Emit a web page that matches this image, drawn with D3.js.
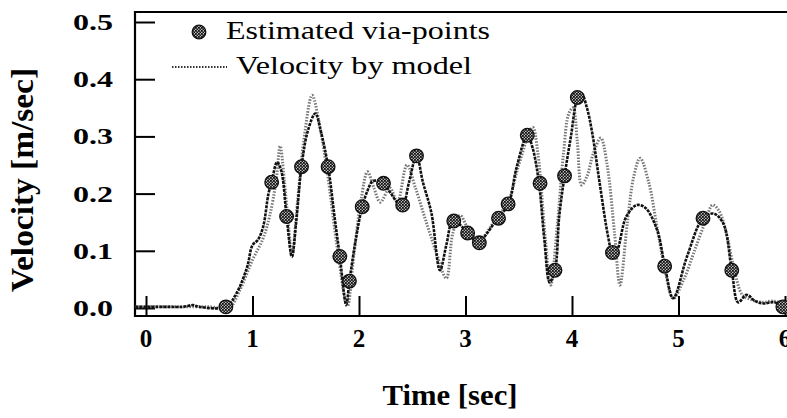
<!DOCTYPE html>
<html>
<head>
<meta charset="utf-8">
<script src="https://cdn.jsdelivr.net/npm/d3@7"></script>
<style>
  html, body { margin: 0; padding: 0; background: #fff; }
  svg { display: block; }
</style>
</head>
<body>
<svg id="chart" width="787" height="418"></svg>
<script>
// ---- data ----
const measuredT = [-0.1, 0.2, 0.35, 0.44, 0.5, 0.75, 0.85, 0.95, 1.0, 1.05, 1.1, 1.15, 1.18, 1.23, 1.27, 1.32, 1.37, 1.41, 1.46, 1.52, 1.59, 1.64, 1.71, 1.77, 1.82, 1.88, 1.91, 1.97, 2.03, 2.08, 2.13, 2.23, 2.3, 2.36, 2.41, 2.47, 2.54, 2.6, 2.68, 2.76, 2.82, 2.88, 2.95, 3.02, 3.12, 3.2, 3.3, 3.4, 3.48, 3.58, 3.63, 3.69, 3.74, 3.79, 3.84, 3.88, 3.93, 3.99, 4.05, 4.09, 4.14, 4.19, 4.26, 4.34, 4.38, 4.42, 4.51, 4.61, 4.69, 4.8, 4.87, 4.95, 5.08, 5.23, 5.33, 5.42, 5.5, 5.56, 5.64, 5.72, 5.8, 5.9, 5.98];
const measuredV = [0.002, 0.002, 0.002, 0.005, 0.002, 0.002, 0.026, 0.072, 0.11, 0.119, 0.142, 0.2, 0.22, 0.255, 0.24, 0.16, 0.09, 0.15, 0.247, 0.31, 0.34, 0.31, 0.247, 0.16, 0.09, 0.006, 0.047, 0.12, 0.177, 0.205, 0.222, 0.218, 0.2, 0.185, 0.18, 0.22, 0.266, 0.22, 0.166, 0.066, 0.11, 0.152, 0.145, 0.131, 0.114, 0.13, 0.157, 0.18, 0.246, 0.302, 0.28, 0.218, 0.12, 0.045, 0.066, 0.16, 0.231, 0.3, 0.366, 0.375, 0.35, 0.306, 0.218, 0.124, 0.096, 0.1, 0.16, 0.18, 0.175, 0.136, 0.075, 0.017, 0.09, 0.157, 0.165, 0.148, 0.066, 0.01, 0.023, 0.012, 0.008, 0.01, 0.002];

const modelT = [-0.1, 0.3, 0.6, 0.78, 0.88, 1.0, 1.1, 1.16, 1.22, 1.26, 1.3, 1.34, 1.37, 1.42, 1.48, 1.56, 1.62, 1.7, 1.8, 1.89, 1.95, 2.02, 2.08, 2.14, 2.2, 2.29, 2.36, 2.45, 2.53, 2.62, 2.72, 2.82, 2.88, 2.95, 3.02, 3.12, 3.3, 3.4, 3.5, 3.63, 3.68, 3.75, 3.8, 3.86, 3.92, 3.97, 4.01, 4.05, 4.09, 4.14, 4.2, 4.27, 4.33, 4.4, 4.45, 4.52, 4.58, 4.64, 4.72, 4.8, 4.88, 4.95, 5.05, 5.15, 5.25, 5.32, 5.38, 5.45, 5.52, 5.6, 5.68, 5.78, 5.9, 6.0];
const modelV = [0.002, 0.002, 0.002, 0.0, 0.031, 0.084, 0.122, 0.16, 0.22, 0.283, 0.22, 0.14, 0.09, 0.18, 0.29, 0.372, 0.33, 0.24, 0.1, 0.003, 0.09, 0.19, 0.238, 0.21, 0.185, 0.21, 0.185, 0.25, 0.21, 0.157, 0.1, 0.052, 0.13, 0.162, 0.14, 0.118, 0.16, 0.185, 0.25, 0.316, 0.27, 0.12, 0.04, 0.14, 0.27, 0.34, 0.35, 0.29, 0.215, 0.23, 0.27, 0.297, 0.25, 0.13, 0.04, 0.15, 0.23, 0.262, 0.22, 0.14, 0.06, 0.017, 0.05, 0.1, 0.15, 0.18, 0.17, 0.13, 0.07, 0.023, 0.015, 0.01, 0.012, 0.005];

const viaT = [0.75, 1.18, 1.32, 1.46, 1.71, 1.82, 1.91, 2.03, 2.23, 2.41, 2.54, 2.89, 3.02, 3.13, 3.31, 3.4, 3.58, 3.7, 3.84, 3.93, 4.05, 4.38, 4.87, 5.23, 5.5, 5.98];
const viaV = [0.002, 0.22, 0.16, 0.247, 0.247, 0.09, 0.047, 0.177, 0.218, 0.18, 0.266, 0.152, 0.131, 0.114, 0.157, 0.182, 0.302, 0.218, 0.066, 0.231, 0.368, 0.097, 0.073, 0.157, 0.066, 0.002];

const xTicks = [0, 1, 2, 3, 4, 5, 6];
const yTicks = [0.0, 0.1, 0.2, 0.3, 0.4, 0.5];
const xTickLabels = ["0", "1", "2", "3", "4", "5", "6"];
const yTickLabels = ["0.0", "0.1", "0.2", "0.3", "0.4", "0.5"];
const legendLabels = ["Estimated via-points", "Velocity by model"];

// ---- layout ----
const FONT = "'Liberation Serif', 'Times New Roman', Times, 'Nimbus Roman', serif";
const svg = d3.select("#chart").attr("font-family", FONT);
const frameL = 135, frameT = 12, frameB = 316, frameR = 787;
const x = d3.scaleLinear().domain([0, 6]).range([146, 785]);
const y = d3.scaleLinear().domain([0, 0.5]).range([308, 22]);

const defs = svg.append("defs");
const pat = defs.append("pattern").attr("id", "hatch")
  .attr("width", 3).attr("height", 3).attr("patternUnits", "userSpaceOnUse");
pat.append("rect").attr("width", 3).attr("height", 3).attr("fill", "#bbb");
pat.append("rect").attr("width", 1.8).attr("height", 1.8).attr("fill", "#111");
pat.append("rect").attr("x", 1.5).attr("y", 1.5).attr("width", 1.5).attr("height", 1.5).attr("fill", "#111");

// frame
const frame = svg.append("g").attr("stroke", "#000").attr("stroke-width", 2.2).attr("fill", "none");
frame.append("path").attr("d", `M${frameR},${frameT}H${frameL}V${frameB}H${frameR}`);

// y ticks (inward)
const yAxis = d3.axisRight(y).tickValues(yTicks).tickSize(20).tickFormat("");
const gy = svg.append("g").attr("transform", `translate(${frameL},0)`).call(yAxis);
gy.select(".domain").remove();
gy.selectAll(".tick line").attr("stroke", "#000").attr("stroke-width", 2);

// x ticks (inward, upward)
const xAxis = d3.axisTop(x).tickValues(xTicks).tickSize(20).tickFormat("");
const gx = svg.append("g").attr("transform", `translate(0,${frameB})`).call(xAxis);
gx.select(".domain").remove();
gx.selectAll(".tick line").attr("stroke", "#000").attr("stroke-width", 2);

// tick labels
svg.append("g").selectAll("text").data(yTicks).join("text")
  .attr("x", 113).attr("y", d => y(d) + 8)
  .attr("text-anchor", "end").attr("font-family", FONT)
  .attr("font-weight", "bold").attr("font-size", 24)
  .attr("textLength", 40).attr("lengthAdjust", "spacingAndGlyphs")
  .text((d, i) => yTickLabels[i]);

svg.append("g").selectAll("text").data(xTicks).join("text")
  .attr("x", d => x(d)).attr("y", 347)
  .attr("text-anchor", "middle").attr("font-family", FONT)
  .attr("font-weight", "bold").attr("font-size", 25)
  .text((d, i) => xTickLabels[i]);

// axis titles
svg.append("text").attr("x", 450).attr("y", 405)
  .attr("text-anchor", "middle").attr("font-family", FONT)
  .attr("font-weight", "bold").attr("font-size", 30)
  .attr("textLength", 135).attr("lengthAdjust", "spacingAndGlyphs")
  .text("Time [sec]");
svg.append("text").attr("transform", "translate(33,180) rotate(-90)")
  .attr("text-anchor", "middle").attr("font-family", FONT)
  .attr("font-weight", "bold").attr("font-size", 31)
  .attr("textLength", 224).attr("lengthAdjust", "spacingAndGlyphs")
  .text("Velocity [m/sec]");

// lines
const line = d3.line().x(d => x(d[0])).y(d => y(d[1])).curve(d3.curveCatmullRom.alpha(0.5));
const modelPts = modelT.map((t, i) => [t, modelV[i]]);
const measPts = measuredT.map((t, i) => [t, measuredV[i]]);

svg.append("path").attr("d", line(modelPts))
  .attr("fill", "none").attr("stroke", "#777").attr("stroke-width", 3)
  .attr("stroke-dasharray", "1.5,1.5");
svg.append("path").attr("d", line(measPts))
  .attr("fill", "none").attr("stroke", "#111").attr("stroke-width", 2.6)
  .attr("stroke-dasharray", "3,1");

// via points
svg.append("g").selectAll("circle").data(viaT).join("circle")
  .attr("cx", d => x(d)).attr("cy", (d, i) => y(viaV[i]))
  .attr("r", 6.8).attr("fill", "url(#hatch)").attr("stroke", "#111").attr("stroke-width", 1.3);

// legend
svg.append("circle").attr("cx", 199).attr("cy", 32).attr("r", 6.8)
  .attr("fill", "url(#hatch)").attr("stroke", "#111").attr("stroke-width", 1.3);
svg.append("text").attr("x", 226).attr("y", 39).attr("font-size", 25).attr("font-family", FONT)
  .attr("textLength", 264).attr("lengthAdjust", "spacingAndGlyphs")
  .text(legendLabels[0]);
svg.append("line").attr("x1", 172).attr("x2", 227).attr("y1", 67).attr("y2", 67)
  .attr("stroke", "#333").attr("stroke-width", 2).attr("stroke-dasharray", "1.5,1.5");
svg.append("text").attr("x", 236).attr("y", 74).attr("font-size", 25).attr("font-family", FONT)
  .attr("textLength", 236).attr("lengthAdjust", "spacingAndGlyphs")
  .text(legendLabels[1]);
</script>
</body>
</html>
